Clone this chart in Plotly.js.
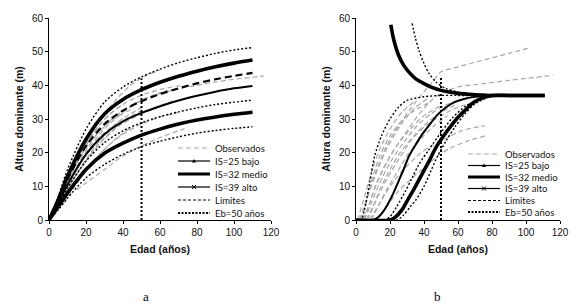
<!DOCTYPE html>
<html><head><meta charset="utf-8">
<script src="https://cdn.plot.ly/plotly-3.0.1.min.js"></script>
<style>body{margin:0;background:#fff}#c{width:582px;height:308px}</style>
</head><body><div id="c"></div>
<script>
// ---------- Panel a : curve values read at these ages ----------
const ageGrid = [0,5,10,20,30,40,50,60,70,80,90,100,110];
const aLimTop  = [0,7,15,27,35,39.5,42.5,44.8,46.7,48.2,49.5,50.5,51.2];
const aIS39    = [0,6,13,24,31.5,35.8,38.7,40.9,42.7,44.2,45.5,46.6,47.5];
const aLimDash = [0,5.5,12,22,28.5,32.5,35.3,37.4,39.1,40.6,41.8,42.8,43.7];
const aIS32    = [0,5,10.5,19.5,25.5,29.3,31.8,33.8,35.5,36.9,38.1,39.1,39.8];
const aLimMid  = [0,4.5,9.5,17.5,23,26.5,28.9,30.7,32.1,33.3,34.3,35,35.6];
const aIS25    = [0,4,8,15,19.8,22.8,25.2,27,28.5,29.7,30.6,31.4,32];
const aLimLow  = [0,3,6.5,12.5,16.5,19.5,21.8,23.4,24.7,25.8,26.6,27.2,27.7];

const obsAgeA = [
 [3,10,20,30,40,50,60,70,80,90,100,110,116],
 [15,20,30,40,50,60,70,75],
 [3,8,14,20,28,36,44,52,60],
 [2,8,15,25,35,45],
 [4,10,18,28,38,48,58,68],
 [3,8,14,22,30,40],
 [5,12,20,28,36,44,52],
 [2,6,12,18,26,34,42,50],
 [6,12,20,30,40,50,60,70],
 [4,10,16,24,32,40,48,56,64],
 [8,14,22,30,38,46],
 [3,9,15,21,27,33,39],
 [5,10,16,24,32,42,52,62,72]
];
const obsHtA = [
 [3,10,20,27,32,35.5,37.5,39,40,41,41.8,42.4,42.8],
 [9,11,15,19,22,24.5,26.5,27.5],
 [4,10,17,23,30,35.5,40,42.8,44.5],
 [2,9,17,25,30,33],
 [3,9,16,23,28,31,33.5,35.5],
 [3,8,14,21,26,30],
 [4,11,18,24,28.5,31.5,34],
 [1.5,5,11,16,22,26.5,30,32.5],
 [4,9,15,21,25.5,28.5,30.5,32],
 [3,10,17,24,29,32.5,35,37,38.5],
 [5,10,16,21,25,28],
 [3,10,17,23,28,31.5,34],
 [5,12,19,26,31,35,37.5,39,40]
];

// ---------- Panel b ----------
const bDecAge  = [20.5,22,25,28,31,35,40,45,50,55,60,65,70,75,80,90,100,111];
const bDecHt   = [58,54,49,46,44,42,40.5,39.3,38.5,38,37.6,37.4,37.2,37.1,37,37,37,37];
const bDecLimAge = [33,35,37,40,43,47,53,60,67,75,85];
const bDecLimHt  = [58.4,54,50.4,46.5,43.5,41,39,38,37.3,37,37];
const bUpLimAge  = [0,3,5,8,11,15,20,25,30,40,50,60,75];
const bUpLimHt   = [0,0,3,11,19,25,30,33.5,35.5,36.6,37,37,37];
const bThinAge = [0,10,13,16,19,22,25,28,31,35,39,44,48,53,58,64,70,80];
const bThinHt  = [0,0,0.8,2.5,5,8,11.5,15,18.8,22.3,25.5,28.8,31.3,33.5,35,36,36.6,37];
const bMidLimAge = [0,17,20,24,29,33,37,43,50,57,65,75,82];
const bMidLimHt  = [0,0,1,4,8.5,12.5,16.5,21,26,30.5,34,36.3,37];
const bThickAge = [0,20,23,27,31,35,39,43,47,52,56,60,64,68,73,80,90,100,111];
const bThickHt  = [0,0,0.8,3,6.5,10,13.8,17.5,21.5,25.3,28,30.5,32.5,34.5,36,37,37,37,37];
const bLowLimAge = [0,24,28,32,35,40,44,48,53,58,64,70,78,85];
const bLowLimHt  = [0,0,1.5,4,5.8,10,14.5,19,23.5,27.5,31.5,34.5,36.5,37];

const obsAgeB = [
 [3,8,13,18,25,35,45,50,60,75,90,101],
 [5,10,15,20,28,38,48,60,75,90,105,116],
 [8,14,20,28,36,44,52,62,76],
 [12,18,24,32,40,48,56,66,76],
 [2,6,10,14,20,28,36,44],
 [4,8,12,18,24,32,40,50],
 [6,10,14,20,26,34,42,50,60],
 [3,7,12,18,26,34,42],
 [9,13,18,24,30,38,46,54],
 [5,9,14,20,28,36,44,52,60],
 [1,5,9,14,20,27,35],
 [7,12,18,25,33,41,50,60,70]
];
const obsHtB = [
 [0,9,16,22,28,35,41,44,45.5,47.5,49.5,51],
 [0,8,14,19,25,32,37,39.5,40.5,41.5,42.3,43],
 [0,5,10,15,19,22,24,26.5,28],
 [0,4,8,12,15.5,19,21.5,23.5,25],
 [0,6,13,19,25,30,33,35],
 [0,5,11,17,22,27,31,34],
 [0,4,9,15,20,25,29,32,34.5],
 [0,7,14,21,28,33,36],
 [0,4,9,14,19,24,28,31],
 [0,5,11,17,23,28,31.5,34,35.5],
 [0,7,14,21,27,32,35.5],
 [0,6,12,18,24,28,31,33.5,35]
];

const ebAge = 50;
const ebTopA = 42;
const ebTopB = 42.5;

const legendLabels = ['Observados','IS=25 bajo','IS=32 medio','IS=39 alto','Limites','Eb=50 años'];
const panelLabels = ['a','b'];
const xTitle = 'Edad (años)';
const yTitle = 'Altura dominante (m)';

// ---------- styles ----------
const GRAY = '#a8a8a8';
const stObs = {color:GRAY, width:1.2, dash:'5px,3px'};
const stThick = {color:'#000', width:3.6};
const stMed = {color:'#000', width:2};
const stDot = {color:'#000', width:1.4, dash:'2px,2px'};
const stDash = {color:'#000', width:2.2, dash:'7px,4px'};
const stEb = {color:'#000', width:2, dash:'2px,2px'};

const traces = [];
function add(x, y, line, ax) {
  traces.push({x:x, y:y, type:'scatter', mode:'lines', line:Object.assign({shape:'spline', smoothing:0.8}, line),
    xaxis: ax===2?'x2':'x', yaxis: ax===2?'y2':'y', showlegend:false, hoverinfo:'skip', cliponaxis:false});
}
obsAgeA.forEach((a,i)=>add(a, obsHtA[i], stObs, 1));
add(ageGrid, aLimTop, stDot, 1);
add(ageGrid, aIS39, stThick, 1);
add(ageGrid, aLimDash, stDash, 1);
add(ageGrid, aIS32, stMed, 1);
add(ageGrid, aLimMid, stDot, 1);
add(ageGrid, aIS25, stThick, 1);
add(ageGrid, aLimLow, stDot, 1);
add([ebAge, ebAge], [0, ebTopA], stEb, 1);

obsAgeB.forEach((a,i)=>add(a, obsHtB[i], stObs, 2));
add(bUpLimAge, bUpLimHt, stDot, 2);
add(bThinAge, bThinHt, stMed, 2);
add(bMidLimAge, bMidLimHt, stDot, 2);
add(bThickAge, bThickHt, stThick, 2);
add(bLowLimAge, bLowLimHt, stDot, 2);
add(bDecLimAge, bDecLimHt, stDot, 2);
add(bDecAge, bDecHt, stThick, 2);
add([ebAge, ebAge], [0, ebTopB], stEb, 2);

// ---------- layout geometry (pixels) ----------
const ML=49, MT=18, PW=511, PH=202;
const px = v => (v-ML)/PW;
const py = v => (MT+PH-v)/PH;

const shapes = [], annotations = [];
const legStyles = [
  {color:GRAY, width:1.2, dash:'5px,3px'},
  {color:'#000', width:1.2},
  {color:'#000', width:3},
  {color:'#000', width:1.2},
  {color:'#000', width:1, dash:'3px,2px'},
  {color:'#000', width:2, dash:'2px,1.5px'}
];
function legend(x0, x1, rows) {
  legendLabels.forEach((lab,i)=>{
    const y = rows[i];
    shapes.push({type:'line', xref:'paper', yref:'paper', x0:px(x0), x1:px(x1), y0:py(y), y1:py(y), line:legStyles[i]});
    annotations.push({xref:'paper', yref:'paper', x:px(x1+3), y:py(y), text:lab, showarrow:false,
      xanchor:'left', yanchor:'middle', font:{family:'Lato, sans-serif', size:9.5, color:'#111'}});
    const xm = (x0+x1)/2;
    if (i===1) {
      shapes.push({type:'path', xref:'paper', yref:'paper',
        path:`M ${px(xm-2)} ${py(y+1.5)} L ${px(xm+2)} ${py(y+1.5)} L ${px(xm)} ${py(y-2)} Z`,
        fillcolor:'#000', line:{width:0}});
    }
    if (i===3) {
      shapes.push({type:'line', xref:'paper', yref:'paper', x0:px(xm-2), x1:px(xm+2), y0:py(y-2), y1:py(y+2), line:{color:'#000', width:1}});
      shapes.push({type:'line', xref:'paper', yref:'paper', x0:px(xm-2), x1:px(xm+2), y0:py(y+2), y1:py(y-2), line:{color:'#000', width:1}});
    }
  });
}
legend(178, 210, [148,161,174,187,200,213]);
legend(468, 500, [154,165.5,177,188.5,200.5,212]);

annotations.push({xref:'paper', yref:'paper', x:px(146), y:py(296), text:panelLabels[0], showarrow:false,
  xanchor:'center', yanchor:'middle', font:{family:'Liberation Serif, serif', size:13, color:'#000'}});
annotations.push({xref:'paper', yref:'paper', x:px(437), y:py(296), text:panelLabels[1], showarrow:false,
  xanchor:'center', yanchor:'middle', font:{family:'Liberation Serif, serif', size:13, color:'#000'}});

const tickFont = {family:'Liberation Sans, Arial, sans-serif', size:10, color:'#111'};
const titleFont = {family:'Liberation Sans, Arial, sans-serif', size:10.5, color:'#111', weight:'bold'};
function xax(domain, anchor) {
  return {domain:domain, anchor:anchor, range:[0,120], dtick:20, tick0:0, showgrid:false, zeroline:false,
    showline:true, linecolor:'#000', linewidth:1, ticks:'outside', ticklen:3, tickcolor:'#000',
    tickfont:tickFont, title:{text:xTitle, font:titleFont, standoff:8}, fixedrange:true};
}
function yax(anchor) {
  return {domain:[0,1], anchor:anchor, range:[0,60], dtick:10, tick0:0, showgrid:false, zeroline:false,
    showline:true, linecolor:'#000', linewidth:1, ticks:'outside', ticklen:3, tickcolor:'#000',
    tickfont:tickFont, title:{text:yTitle, font:titleFont, standoff:6}, fixedrange:true};
}

const layout = {
  width:582, height:308, margin:{l:ML, r:582-ML-PW, t:MT, b:308-MT-PH},
  paper_bgcolor:'#fff', plot_bgcolor:'rgba(0,0,0,0)', showlegend:false,
  xaxis: xax([0, px(271)], 'y'),
  yaxis: yax('x'),
  xaxis2: xax([px(356), 1], 'y2'),
  yaxis2: yax('x2'),
  shapes:shapes, annotations:annotations
};
Plotly.newPlot('c', traces, layout, {staticPlot:true, displayModeBar:false});
</script></body></html>
